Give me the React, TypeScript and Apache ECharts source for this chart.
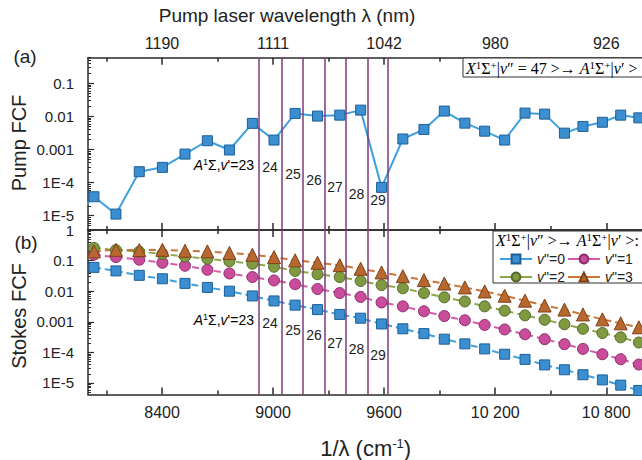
import React, { useEffect, useRef } from 'react';
import * as echarts from 'echarts';

// ---- data ----
const levelLines = [8925, 9046, 9160, 9280, 9394, 9511, 9622];
const levelNames = ['24', '25', '26', '27', '28', '29'];

const pumpX = [7910, 8032, 8151, 8277, 8402, 8524, 8645, 8764, 8888, 9005, 9119, 9240, 9360, 9473, 9586, 9701, 9815, 9925, 10036, 10143, 10251, 10361, 10467, 10574, 10674, 10779, 10878, 10976];
const pumpFCF = [8e-6, 3.75e-5, 1.12e-5, 2.14e-4, 2.9e-4, 7.3e-4, 1.85e-3, 9.7e-4, 6.2e-3, 1.94e-3, 0.0124, 0.0103, 0.011, 0.0156, 7.2e-5, 2.09e-3, 4.07e-3, 0.0146, 6.3e-3, 3.6e-3, 1.94e-3, 0.0127, 0.0118, 3.14e-3, 5.0e-3, 6.7e-3, 0.011, 9.1e-3];

const stokesX = [8032, 8151, 8277, 8402, 8524, 8645, 8764, 8888, 9005, 9119, 9240, 9360, 9473, 9586, 9701, 9815, 9925, 10036, 10143, 10251, 10361, 10467, 10574, 10674, 10779, 10878, 10976];
const stokesV0 = [0.060, 0.046, 0.033, 0.0255, 0.018, 0.0133, 0.0100, 0.0070, 0.0048, 0.0035, 0.0025, 0.00174, 0.00131, 8.5e-4, 5.9e-4, 4.1e-4, 2.7e-4, 1.9e-4, 1.3e-4, 8.7e-5, 5.9e-5, 3.9e-5, 2.7e-5, 1.86e-5, 1.26e-5, 8.5e-6, 5.7e-6];
const stokesV1 = [0.155, 0.13, 0.107, 0.085, 0.068, 0.050, 0.038, 0.029, 0.0224, 0.0169, 0.0118, 0.0087, 0.0065, 0.0043, 0.0032, 0.0022, 0.00154, 0.00112, 7.9e-4, 5.6e-4, 3.9e-4, 2.7e-4, 1.86e-4, 1.3e-4, 8.7e-5, 6.0e-5, 4.0e-5];
const stokesV2 = [0.26, 0.22, 0.195, 0.165, 0.136, 0.115, 0.095, 0.079, 0.063, 0.046, 0.036, 0.029, 0.0215, 0.0158, 0.0125, 0.0087, 0.0063, 0.0046, 0.0032, 0.0023, 0.00162, 0.00116, 8.3e-4, 5.9e-4, 4.3e-4, 3.1e-4, 2.1e-4];
const stokesV3 = [0.20, 0.225, 0.22, 0.225, 0.21, 0.20, 0.178, 0.155, 0.13, 0.102, 0.085, 0.071, 0.054, 0.041, 0.031, 0.023, 0.0178, 0.0133, 0.0098, 0.0071, 0.0049, 0.0034, 0.0025, 0.00174, 0.0012, 8.9e-4, 6.6e-4];

const majorX = [8400, 9000, 9600, 10200, 10800];
const minorX = [8100, 8700, 9300, 9900, 10500];
const decadesA = [1e-5, 1e-4, 1e-3, 1e-2, 1e-1];
const decadesB = [1e-5, 1e-4, 1e-3, 1e-2, 1e-1, 1];

const SANS = '"Liberation Sans", Arial, sans-serif';
const SERIF = '"Liberation Serif", "Times New Roman", serif';

function minorLog(lo: number, hi: number) {
  const out: number[] = [];
  for (let n = -7; n <= 0; n++) {
    for (let k = 2; k <= 9; k++) {
      const v = parseFloat((k * Math.pow(10, n)).toPrecision(3));
      if (v >= lo && v <= hi) out.push(v);
    }
  }
  return out;
}

const yFmt = (v: number) => (v >= 0.001 ? String(parseFloat(v.toPrecision(1))) : '1E' + Math.round(Math.log10(v)));
const topFmt = (v: number) => String(Math.round(1e7 / v));
const botFmt = (v: number) => (v >= 10000 ? `${Math.floor(v / 1000)} ${String(v % 1000).padStart(3, '0')}` : String(v));

export default function App() {
  const ref = useRef<HTMLDivElement>(null);
  useEffect(() => {
    if (!ref.current) return;
    const chart = echarts.init(ref.current, undefined, { renderer: 'svg' });
    const lineCol = '#2a2a2a';
    const AL = { show: true, onZero: false, lineStyle: { color: lineCol, width: 1.5 } };
    const noAL = { show: false, onZero: false };
    const xBase = { type: 'value', min: 8000, max: 11000, splitLine: { show: false } };
    const tickMaj = { inside: true, length: 7, customValues: majorX, lineStyle: { color: lineCol, width: 1.5 } };
    const tickMin = { inside: true, length: 4, customValues: minorX, lineStyle: { color: lineCol, width: 1.5 } };
    const lblStyle = { fontSize: 15, color: '#222', fontFamily: SANS };
    const xLblStyle = { fontSize: 16, color: '#222', fontFamily: SANS };

    const minorA = minorLog(3.7e-6, 0.6);
    const minorB = minorLog(4.2e-6, 1);

    const yA = { type: 'log', gridIndex: 0, min: 3.7e-6, max: 0.6, position: 'left', splitLine: { show: false } };
    const yB = { type: 'log', gridIndex: 1, min: 4.2e-6, max: 1, position: 'left', splitLine: { show: false } };

    const supRich = {
      it: { fontStyle: 'italic', fontSize: 16, fontFamily: SERIF, color: '#222' },
      n: { fontSize: 16, fontFamily: SERIF, color: '#222' },
      sup: { fontSize: 11, fontFamily: SERIF, color: '#222', verticalAlign: 'top', padding: [0, 0, 6, 0] },
    };
    const mathA = '{it|X}{sup|1}{n|Σ}{sup|+}{n||}{it|v}{n|″ = 47 >→ }{it|A}{sup|1}{n|Σ}{sup|+}{n||}{it|v}{n|′ >}';
    const mathB = '{it|X}{sup|1}{n|Σ}{sup|+}{n||}{it|v}{n|″ >→ }{it|A}{sup|1}{n|Σ}{sup|+}{n||}{it|v}{n|′ >:}';

    const lvlRich = {
      it: { fontStyle: 'italic', fontSize: 14, fontFamily: SANS, color: '#222' },
      n: { fontSize: 14, fontFamily: SANS, color: '#222' },
      sup: { fontSize: 9, fontFamily: SANS, color: '#222', verticalAlign: 'top', padding: [0, 0, 6, 0] },
    };
    const lvlXs = [270, 293, 314, 335, 356.5, 378];
    const lvlYa = [167, 174, 180, 187, 194, 200];
    const lvlYb = [323, 330, 335, 343, 349, 355];
    const lvlTexts: any[] = [];
    [[165, lvlYa], [320, lvlYb]].forEach(([y23, ys]: any) => {
      lvlTexts.push({
        type: 'text', x: 254, y: y23, z: 5,
        style: { text: "{it|A}{sup|1}{n|Σ,}{it|v}{n|'=23}", rich: lvlRich, align: 'right', verticalAlign: 'middle' },
      });
      levelNames.forEach((nm, i) => {
        lvlTexts.push({
          type: 'text', x: lvlXs[i], y: ys[i], z: 5,
          style: { text: nm, fontSize: 14, fontFamily: SANS, fill: '#222', align: 'center', verticalAlign: 'middle' },
        });
      });
    });

    const markLine = {
      silent: true,
      symbol: ['none', 'none'],
      label: { show: false },
      lineStyle: { color: '#7d3a7b', width: 1.5, type: 'solid' },
      data: levelLines.map((x) => ({ xAxis: x })),
    };

    const stokesStyles = [
      { name: 'v0', data: stokesV0, symbol: 'rect', size: 10, line: '#3fa0e0', fill: '#3b8fd0', border: '#1c5f98' },
      { name: 'v1', data: stokesV1, symbol: 'circle', size: 11, line: '#d65aa8', fill: '#c94d9b', border: '#8e2d6c' },
      { name: 'v2', data: stokesV2, symbol: 'circle', size: 11, line: '#8ca84c', fill: '#7f9a40', border: '#55692a' },
      { name: 'v3', data: stokesV3, symbol: 'triangle', size: 13, line: '#cc7538', fill: '#b8672f', border: '#7e4219' },
    ];

    const option: any = {
      animation: false,
      backgroundColor: '#fff',
      textStyle: { fontFamily: SANS },
      grid: [
        { left: 88, top: 57.7, width: 555.3, height: 172.3 },
        { left: 88, top: 230, width: 555.3, height: 172 },
      ],
      xAxis: [
        { ...xBase, gridIndex: 0, position: 'bottom', axisLine: AL, axisTick: tickMaj, axisLabel: { show: false } },
        { ...xBase, gridIndex: 0, position: 'bottom', axisLine: noAL, axisTick: tickMin, axisLabel: { show: false } },
        { ...xBase, gridIndex: 0, position: 'top', axisLine: AL, axisTick: tickMaj, axisLabel: { show: true, customValues: majorX, formatter: topFmt, margin: 6, ...xLblStyle } },
        { ...xBase, gridIndex: 0, position: 'top', axisLine: noAL, axisTick: tickMin, axisLabel: { show: false } },
        { ...xBase, gridIndex: 1, position: 'top', axisLine: AL, axisTick: tickMaj, axisLabel: { show: false } },
        { ...xBase, gridIndex: 1, position: 'top', axisLine: noAL, axisTick: tickMin, axisLabel: { show: false } },
        {
          ...xBase, gridIndex: 1, position: 'bottom', axisLine: AL, axisTick: tickMaj,
          axisLabel: { show: true, customValues: majorX, formatter: botFmt, margin: 10, ...xLblStyle },
          name: '1/λ (cm{s|-1})', nameLocation: 'middle', nameGap: 42,
          nameTextStyle: { fontSize: 22, color: '#222', fontFamily: SANS, rich: { s: { fontSize: 13, fontFamily: SANS, verticalAlign: 'top', padding: [0, 0, 10, 0], color: '#222' } } },
        },
        { ...xBase, gridIndex: 1, position: 'bottom', axisLine: noAL, axisTick: tickMin, axisLabel: { show: false } },
      ],
      yAxis: [
        { ...yA, axisLine: AL, axisTick: { inside: true, length: 6, customValues: decadesA, lineStyle: { color: lineCol, width: 1.2 } }, axisLabel: { customValues: decadesA, formatter: yFmt, margin: 14, ...lblStyle } },
        { ...yA, axisLine: noAL, axisTick: { inside: true, length: 3, customValues: minorA, lineStyle: { color: lineCol, width: 1 } }, axisLabel: { show: false } },
        { ...yB, axisLine: AL, axisTick: { inside: true, length: 6, customValues: decadesB, lineStyle: { color: lineCol, width: 1.2 } }, axisLabel: { customValues: decadesB, formatter: yFmt, margin: 14, ...lblStyle } },
        { ...yB, axisLine: noAL, axisTick: { inside: true, length: 3, customValues: minorB, lineStyle: { color: lineCol, width: 1 } }, axisLabel: { show: false } },
      ],
      legend: {
        data: ['v0', 'v1', 'v2', 'v3'],
        left: 494, top: 246, width: 170,
        orient: 'horizontal',
        itemWidth: 32, itemHeight: 11, itemGap: 2,
        lineStyle: { type: 'solid' },
        formatter: (name: string) => `{i|v}{n|"=${name.slice(1)}}`,
        textStyle: {
          fontSize: 14, color: '#222', fontFamily: SANS, lineHeight: 16,
          rich: {
            i: { fontStyle: 'italic', fontSize: 14, fontFamily: SANS, color: '#222', lineHeight: 16 },
            n: { fontSize: 14, fontFamily: SANS, color: '#222', lineHeight: 16 },
          },
        },
        z: 6,
      },
      series: [
        {
          type: 'line', name: 'pump', xAxisIndex: 0, yAxisIndex: 0,
          data: pumpX.map((x, i) => [x, pumpFCF[i]]),
          symbol: 'rect', symbolSize: 10, z: 3,
          lineStyle: { color: '#3fa0e0', width: 2 },
          itemStyle: { color: '#3b8fd0', borderColor: '#1c5f98', borderWidth: 1 },
          markLine,
        },
        ...stokesStyles.map((s, idx) => ({
          type: 'line', name: s.name, xAxisIndex: 6, yAxisIndex: 2,
          data: stokesX.map((x, i) => [x, s.data[i]]),
          symbol: s.symbol, symbolSize: s.size, z: 3,
          lineStyle: { color: s.line, width: 2, type: [7, 4] },
          itemStyle: { color: s.fill, borderColor: s.border, borderWidth: 1 },
          ...(idx === 0 ? { markLine } : {}),
        })),
      ],
      graphic: {
        elements: [
          { type: 'text', x: 287, y: 15, style: { text: 'Pump laser wavelength λ (nm)', fontSize: 19, fontFamily: SANS, fill: '#222', align: 'center', verticalAlign: 'middle' } },
          { type: 'text', x: 25, y: 56, style: { text: '(a)', fontSize: 19, fontFamily: SANS, fill: '#222', align: 'center', verticalAlign: 'middle' } },
          { type: 'text', x: 26, y: 242, style: { text: '(b)', fontSize: 19, fontFamily: SANS, fill: '#222', align: 'center', verticalAlign: 'middle' } },
          { type: 'text', x: 18.5, y: 143, rotation: Math.PI / 2, style: { text: 'Pump FCF', fontSize: 20, fontFamily: SANS, fill: '#222', align: 'center', verticalAlign: 'middle' } },
          { type: 'text', x: 18.5, y: 316, rotation: Math.PI / 2, style: { text: 'Stokes FCF', fontSize: 20, fontFamily: SANS, fill: '#222', align: 'center', verticalAlign: 'middle' } },
          { type: 'rect', z: 4, shape: { x: 463, y: 58, width: 220, height: 19 }, style: { fill: '#fff', stroke: '#333', lineWidth: 1 } },
          { type: 'text', z: 5, x: 466, y: 68, style: { text: mathA, rich: supRich, align: 'left', verticalAlign: 'middle' } },
          { type: 'rect', z: 4, shape: { x: 493, y: 231, width: 220, height: 52 }, style: { fill: '#fff', stroke: '#333', lineWidth: 1 } },
          { type: 'text', z: 5, x: 496, y: 240, style: { text: mathB, rich: supRich, align: 'left', verticalAlign: 'middle' } },
          ...lvlTexts,
        ],
      },
    };
    chart.setOption(option);
    return () => chart.dispose();
  }, []);

  return (
    <div style={{ position: 'fixed', left: 0, top: 0, width: 642, height: 460, overflow: 'hidden', background: '#fff' }}>
      <div ref={ref} style={{ width: 700, height: 460 }} />
    </div>
  );
}
